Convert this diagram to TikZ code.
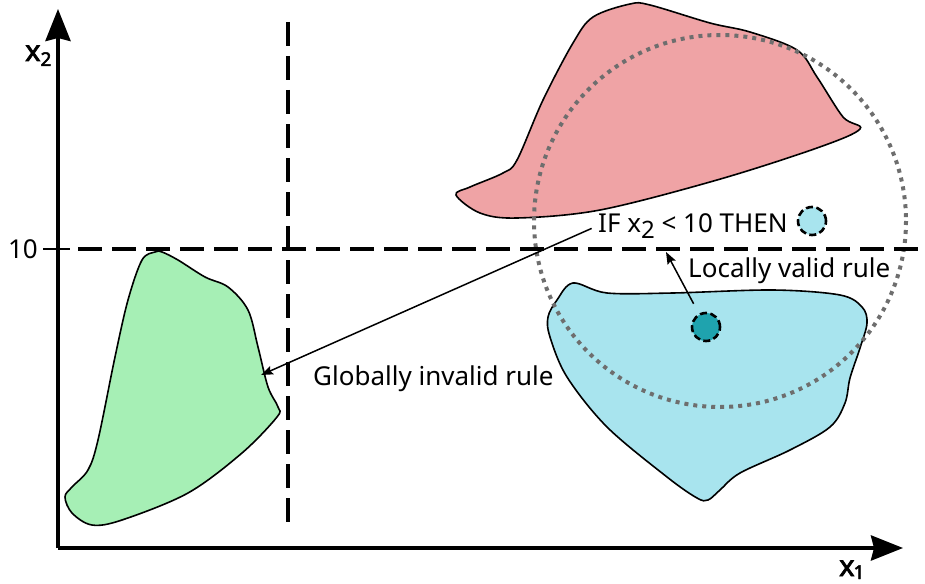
\documentclass[tikz,border=0pt]{standalone}
\usepackage{fontspec}
\setmainfont{Noto Sans}
\newfontfamily\axfont[FakeBold=2.5]{Noto Sans}
\usetikzlibrary{arrows.meta}
\definecolor{redfill}{HTML}{EFA3A5}
\definecolor{bluefill}{HTML}{A8E4EE}
\definecolor{greenfill}{HTML}{A6EFB5}
\definecolor{tealfill}{HTML}{1FA3AE}
\definecolor{dotgray}{HTML}{6E6E6E}
\tikzset{
  blob/.style={draw=black, line width=1.6pt},
  axis/.style={line width=4pt, -{Stealth[length=32pt,width=25pt,inset=3pt]}},
  guide/.style={line width=3.5pt, dash pattern=on 24pt off 10pt},
  region/.style={draw=dotgray, line width=4pt, dash pattern=on 4pt off 5pt},
  pt/.style={circle, draw=black, line width=2.6pt, dash pattern=on 7pt off 3.5pt, minimum size=28pt, inner sep=0pt},
  lbl/.style={inner sep=0pt, font=\fontsize{26}{30}\selectfont},
  axlbl/.style={inner sep=0pt, font=\fontsize{29}{30}\axfont},
  arr/.style={line width=1.5pt, -{Stealth[length=12pt,width=9pt,inset=2pt]}}
}
\begin{document}
\begin{tikzpicture}[x=1pt,y=-1pt]
\useasboundingbox (0,0) rectangle (925,583);
% blobs
\draw[blob, fill=redfill] plot[smooth cycle, tension=0.55] coordinates {
  (456,195) (470,187) (503,173) (517,160) (543,100) (573,43) (593,17) (630,4)
  (650,5) (710,23) (750,32) (797,50) (817,77) (843,117) (860,129)
  (817,148) (717,180) (600,210) (517,218) (480,213)};
\draw[blob, fill=bluefill] plot[smooth cycle, tension=0.55] coordinates {
  (573,283) (607,293) (673,293) (773,290) (840,295) (862,307) (867,323)
  (860,348) (850,378) (845,403) (830,427) (790,450) (740,473) (720,490)
  (708,500) (697,498) (667,477) (607,427) (567,377) (550,337) (548,317) (557,300)};
\draw[blob, fill=greenfill] plot[smooth cycle, tension=0.55] coordinates {
  (155,252) (142,260) (128,300) (115,357) (98,440) (88,470) (72,487)
  (65,497) (72,513) (92,525) (122,520) (188,493) (242,453) (277,417)
  (278,407) (268,387) (258,347) (248,310) (228,287) (205,277) (178,260) (162,252)};
% dotted region
\draw[region] (720,221) circle[radius=186];
% guide lines
\draw[guide] (78,249) -- (925,249);
\draw[guide] (288,22) -- (288,530);
\draw[line width=2pt] (43,249) -- (70,249);
% axes
\coordinate (origin) at (58,548);
\coordinate (xend) at (903,548);
\coordinate (yend) at (58,9);
\draw[axis] (origin) -- (xend);
\draw[axis] (origin) -- (yend);
% labels
\node[axlbl, anchor=base west] (x2) at (25,61) {x\raisebox{-5pt}{\fontsize{19}{19}\axfont 2}};
\node[axlbl, anchor=base west] (x1) at (839,576) {x\kern-1pt\raisebox{-3pt}{\fontsize{19}{19}\axfont 1}};
\node[lbl, anchor=base east] (ten) at (38,258) {10};
% points
\node[pt, fill=bluefill] (cand) at (812,221) {};
\node[pt, fill=tealfill] (sample) at (706,327) {};
% texts
\node[lbl, anchor=base west] (ifrule) at (598,232) {IF x\raisebox{-6pt}{\fontsize{24}{24}\selectfont 2} < 10 THEN};
\node[lbl, anchor=base west] (local) at (688,277) {Locally valid rule};
\node[lbl, anchor=base west] (global) at (313,385) {Globally invalid rule};
% arrows
\coordinate (gtip) at (261,375);
\coordinate (ltip) at (666,252);
\draw[arr, shorten <=7pt] (ifrule.west) -- (gtip);
\draw[arr, shorten <=11pt] (sample) -- (ltip);
\end{tikzpicture}
\end{document}
